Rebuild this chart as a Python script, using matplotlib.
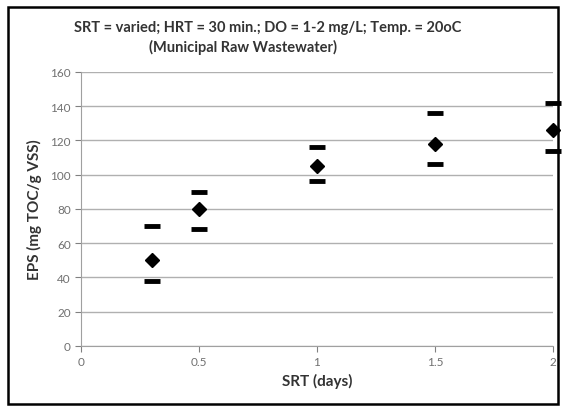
import matplotlib
matplotlib.use("Agg")
from matplotlib import pyplot as plt
from matplotlib.patches import Rectangle

# SRT (days) and EPS (mg TOC/g VSS)
srt = [0.3, 0.5, 1.0, 1.5, 2.0]
eps_mean = [50, 80, 105, 118, 126]
eps_high = [70, 90, 116, 136, 142]
eps_low = [38, 68, 96, 106, 114]

plt.rcParams['font.family'] = ['Lato', 'DejaVu Sans']

fig = plt.figure(figsize=(5.63, 4.14), dpi=100)
ax = fig.add_axes([0.144, 0.162, 0.838, 0.662])

ax.plot(srt, eps_high, linestyle='none', marker='_', markersize=12, mew=3.5, color='black', zorder=3, clip_on=False)
ax.plot(srt, eps_low, linestyle='none', marker='_', markersize=12, mew=3.5, color='black', zorder=3, clip_on=False)
ax.plot(srt, eps_mean, linestyle='none', marker='D', markersize=7, color='black', zorder=3, clip_on=False)

ax.set_xlim(0, 2)
ax.set_ylim(0, 160)
ax.set_xticks([0, 0.5, 1, 1.5, 2])
ax.set_xticklabels(['0', '0.5', '1', '1.5', '2'])
ax.set_yticks(range(0, 161, 20))
ax.yaxis.grid(True, color='#b0b0b0', linewidth=1)
ax.set_axisbelow(True)
for s in ['top', 'right']:
    ax.spines[s].set_visible(False)
for s in ['left', 'bottom']:
    ax.spines[s].set_color('#a0a0a0')
ax.tick_params(colors='#808080', labelsize=8.5, length=4, labelcolor='#707070')

ax.set_xlabel('SRT (days)', fontsize=11, fontweight='bold', color='#333333', labelpad=4)
ax.set_ylabel('EPS (mg TOC/g VSS)', fontsize=11, fontweight='bold', color='#333333', labelpad=6)

fig.text(268 / 563, 1 - 28 / 414, 'SRT = varied; HRT = 30 min.; DO = 1-2 mg/L; Temp. = 20oC',
         ha='center', va='center', fontsize=10.5, fontweight='bold', color='#333333')
fig.text(243 / 563, 1 - 47 / 414, '(Municipal Raw Wastewater)',
         ha='center', va='center', fontsize=10.5, fontweight='bold', color='#333333')

fig.patches.append(Rectangle((8 / 563, 9 / 414), 550 / 563, 397 / 414, transform=fig.transFigure,
                             fill=False, edgecolor='black', linewidth=1.8))

plt.savefig('out.png', dpi=100)
